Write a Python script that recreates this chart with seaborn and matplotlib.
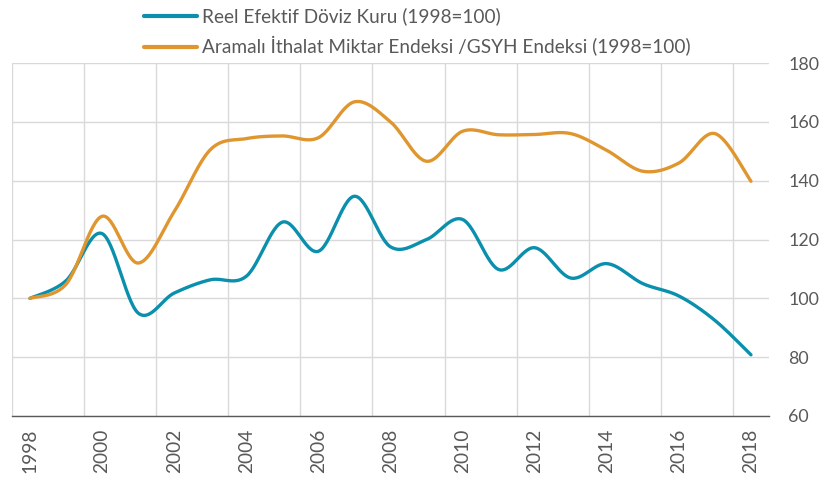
import numpy as np
import pandas as pd
import seaborn as sns
import matplotlib.pyplot as plt

# values (1998=100)
years = list(range(1998, 2019))
reer = [100.0, 106.0, 122.0, 95.0, 101.8, 106.3, 107.5, 125.9, 116.0, 134.7, 117.5,
        120.0, 126.8, 109.8, 117.2, 106.9, 111.8, 105.0, 100.8, 92.5, 80.8]
import_ratio = [100.0, 104.8, 127.9, 112.0, 129.5, 150.5, 154.3, 155.2, 154.6, 166.8, 160.0,
                146.6, 156.8, 155.6, 155.7, 156.0, 150.3, 143.2, 146.0, 156.0, 139.8]
series_names = ["Reel Efektif Döviz Kuru (1998=100)",
                "Aramalı İthalat Miktar Endeksi /GSYH Endeksi (1998=100)"]
yticks = [60, 80, 100, 120, 140, 160, 180]

BLUE = "#0a8fad"
ORANGE = "#e0962f"
GREY = "#595959"


def smooth(x, y, steps=30):
    """Excel-style smoothed line (Catmull-Rom through the data points)."""
    x = np.asarray(x, float)
    y = np.asarray(y, float)
    px = np.concatenate([[x[0]], x, [x[-1]]])
    py = np.concatenate([[y[0]], y, [y[-1]]])
    t = np.linspace(0, 1, steps, endpoint=False)
    xs, ys = [], []
    for i in range(1, len(px) - 2):
        for p, out in ((px, xs), (py, ys)):
            p0, p1, p2, p3 = p[i - 1], p[i], p[i + 1], p[i + 2]
            c1 = p1 + (p2 - p0) / 6
            c2 = p2 - (p3 - p1) / 6
            out.extend((1 - t) ** 3 * p1 + 3 * (1 - t) ** 2 * t * c1
                       + 3 * (1 - t) * t ** 2 * c2 + t ** 3 * p2)
    xs.append(x[-1])
    ys.append(y[-1])
    return np.array(xs), np.array(ys)


frames = []
for name, vals in zip(series_names, [reer, import_ratio]):
    sx, sy = smooth(years, vals)
    frames.append(pd.DataFrame({"Yıl": sx, "Endeks": sy, "Seri": name}))
plot_data = pd.concat(frames, ignore_index=True)

sns.set_theme(style="white")
plt.rcParams["font.family"] = ["Lato", "DejaVu Sans"]

fig = plt.figure(figsize=(8.24, 4.79), dpi=100)
ax = fig.add_axes([12 / 824, 1 - 416 / 479, (769 - 12) / 824, (416 - 63) / 479])

sns.lineplot(data=plot_data, x="Yıl", y="Endeks", hue="Seri", sort=False,
             palette=[BLUE, ORANGE], linewidth=2.4, ax=ax, legend=False)

ax.set_xlim(1997.5, 2018.5)
ax.set_ylim(60, 180)

# gridlines / tick marks sit between categories, labels on category centres
boundaries = [y - 0.5 for y in years[::2]]
ax.set_xticks(boundaries)
ax.set_xticklabels([])
ax.set_xticks(years[::2], minor=True)
ax.set_xticklabels([str(y) for y in years[::2]], minor=True, rotation=90,
                   fontsize=13.8, color=GREY)
ax.tick_params(axis="x", which="major", length=5, width=1, color=GREY, direction="out")
ax.tick_params(axis="x", which="minor", length=0, pad=9)

ax.yaxis.tick_right()
ax.set_yticks(yticks)
ax.set_yticklabels([str(v) for v in yticks], fontsize=12.8, color=GREY)
ax.tick_params(axis="y", length=0, pad=14)

ax.grid(True, which="major", color="#d9d9d9", linewidth=1)
for side in ["top", "left", "right"]:
    ax.spines[side].set_visible(False)
ax.spines["bottom"].set_color(GREY)
ax.spines["bottom"].set_linewidth(1)
ax.set_xlabel("")
ax.set_ylabel("")

handles = [plt.Line2D([], [], color=c, linewidth=3) for c in (BLUE, ORANGE)]
fig.legend(handles, series_names, loc="upper left", bbox_to_anchor=(127 / 824, 1.02),
           frameon=False, fontsize=13.7, handlelength=2.8, handletextpad=0.26,
           labelspacing=0.58, labelcolor=GREY)

fig.savefig("out.png", dpi=100)
